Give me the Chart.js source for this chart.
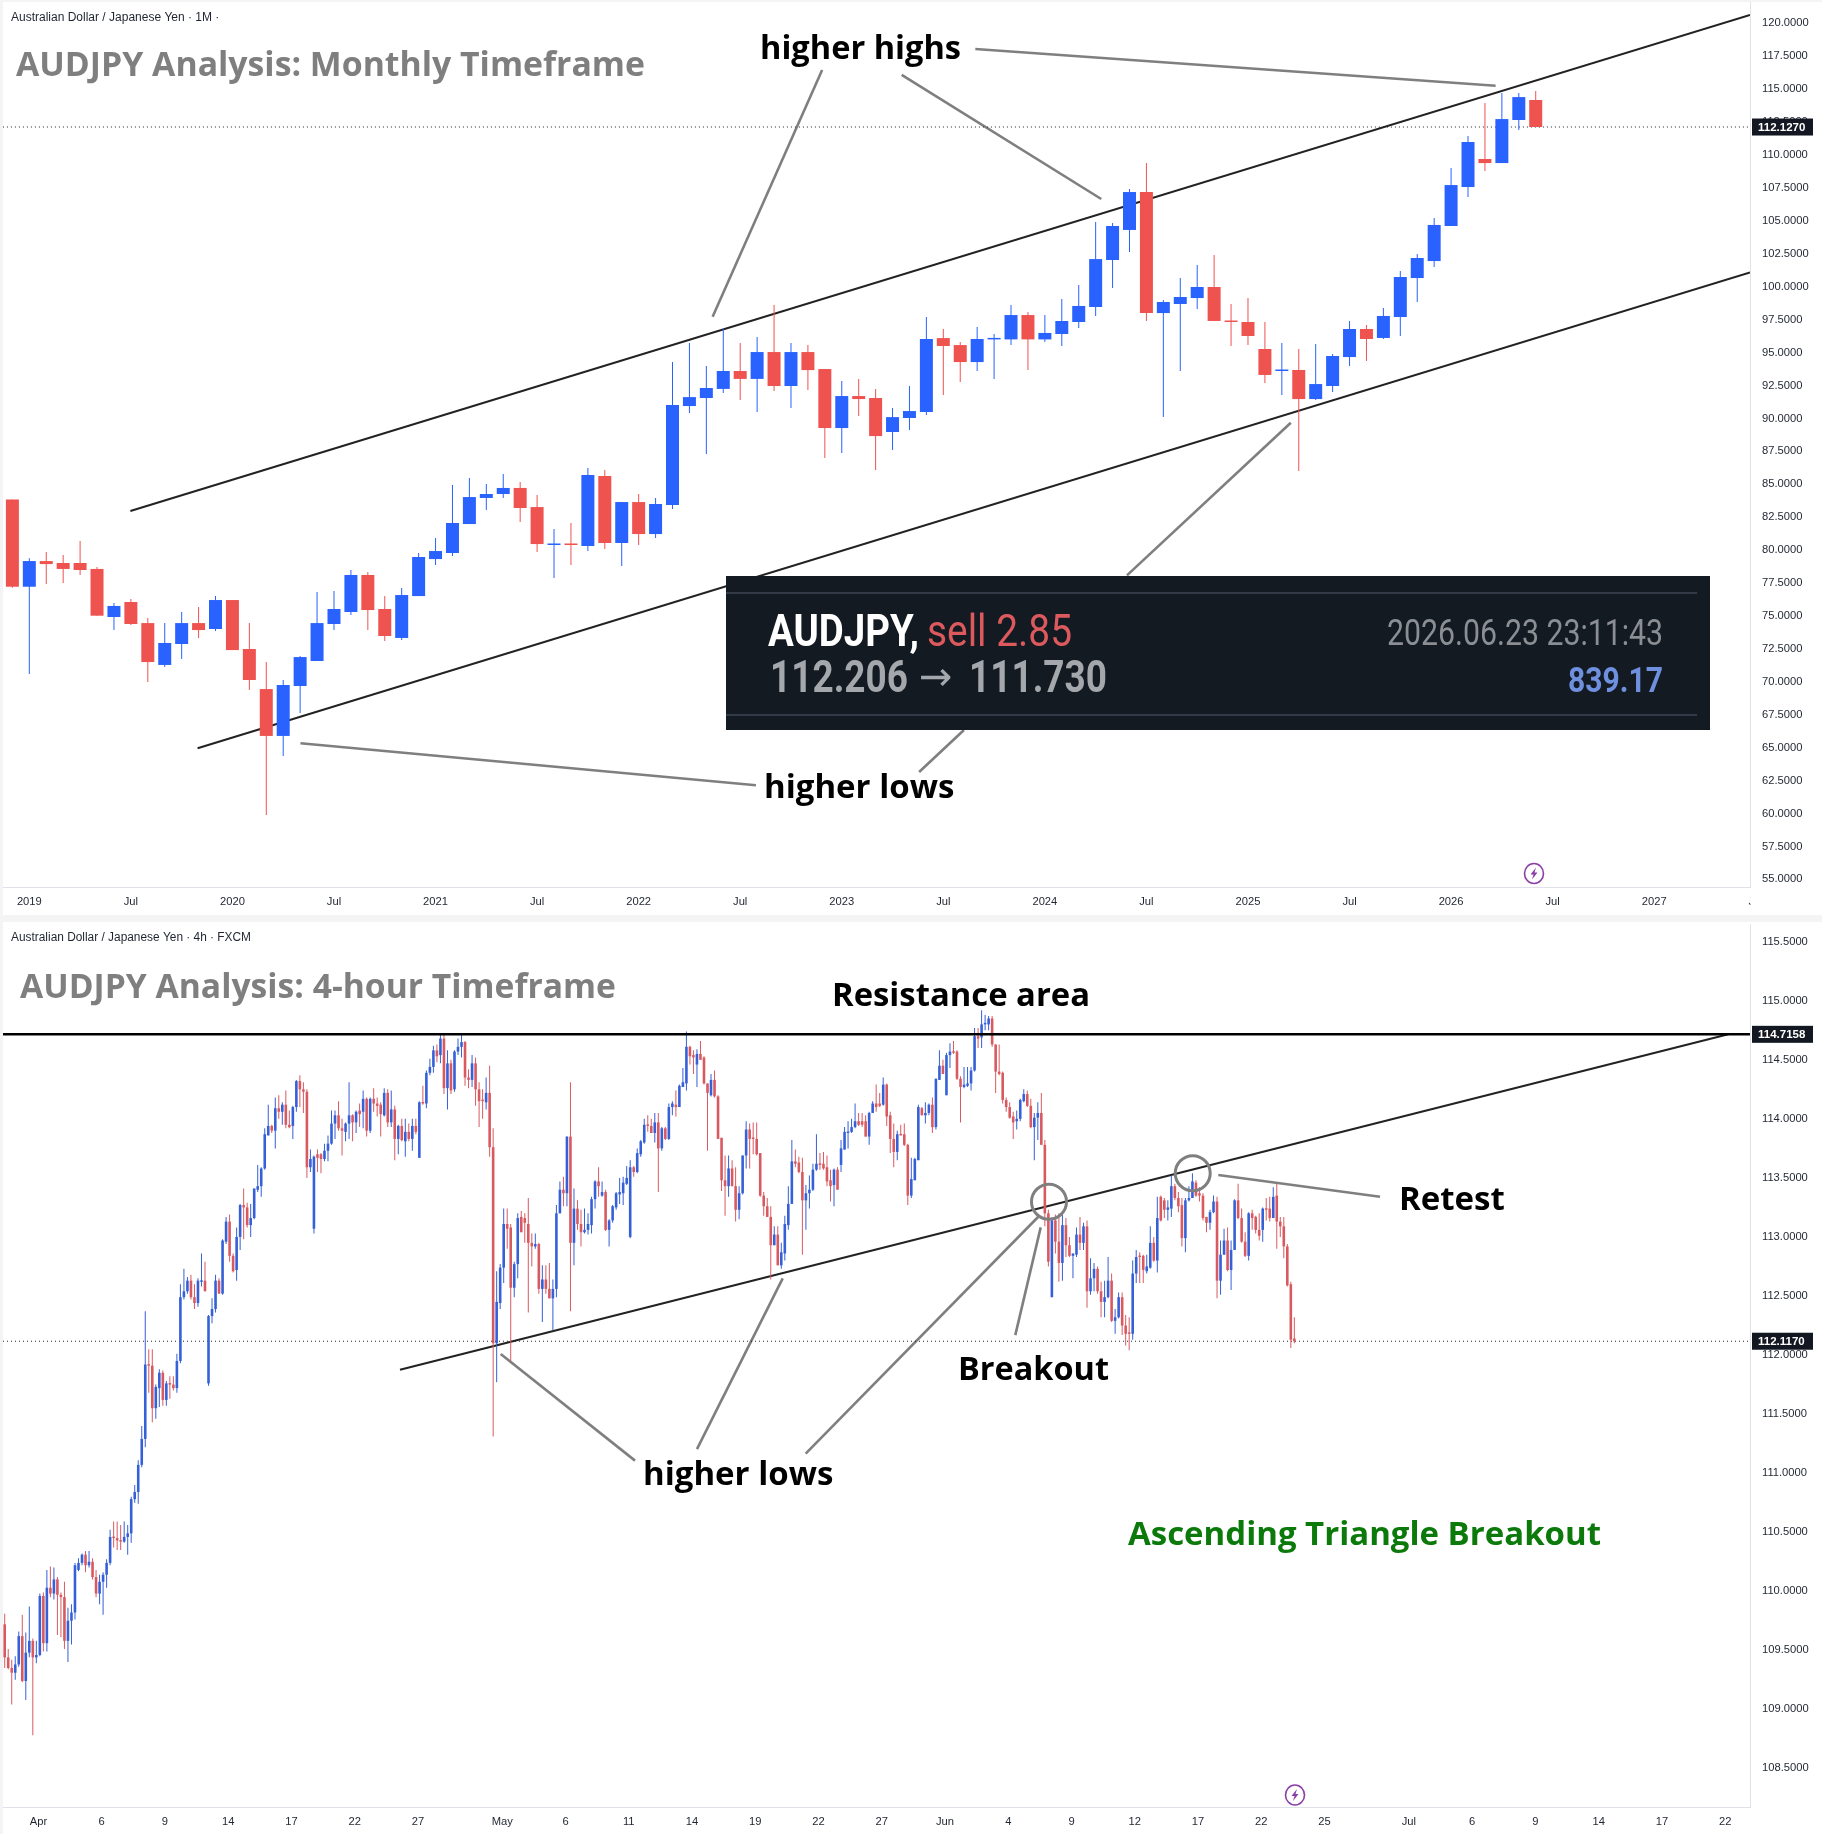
<!DOCTYPE html>
<html>
<head>
<meta charset="utf-8">
<title>AUDJPY Analysis</title>
<script src="https://cdn.jsdelivr.net/npm/chart.js@4/dist/chart.umd.min.js"></script>
<style>
  html, body { margin: 0; padding: 0; background: #f4f4f5; }
  body { position: relative; width: 1822px; height: 1834px; overflow: hidden; }
  canvas { position: absolute; left: 0; display: block; }
  #monthlyChart { top: 0; }
  #hourlyChart { top: 920px; }
</style>
</head>
<body>
<canvas id="monthlyChart" width="1822" height="920"></canvas>
<canvas id="hourlyChart" width="1822" height="914"></canvas>
<script>
// Monthly candles, Dec 2018 to Jun 2026
const monthlyOpen = [83.85,77.22,79.17,79.02,79.02,78.57,74.92,76.06,74.46,71.28,
  72.87,74.46,74.01,76.21,72.49,69.45,65.89,69.68,71.58,74.39,
  75.3,78.11,75.53,73.33,76.51,79.32,79.78,81.98,83.96,84.26,
  84.72,83.27,80.39,80.46,80.31,85.63,80.54,83.65,81.22,83.43,
  90.94,91.55,92.24,93.6,93,95.04,92.46,95.04,93.75,89.27,
  91.7,91.55,88.97,90.03,90.49,96.1,95.57,94.28,96,96,
  97.85,96,96.41,97.32,98.46,102.03,104.31,107.19,98,98.69,
  99.14,99.98,97.4,97.32,95.27,93.6,93.68,91.47,92.46,94.66,
  96.79,96.11,97.7,100.66,101.95,104.61,107.57,109.7,109.39,112.66,114.18];
const monthlyHigh = [83.85,79.38,79.86,79.63,80.69,78.72,75.98,76.29,74.84,74.46,
  75.3,75.68,76.51,76.21,74.46,71.5,70.14,71.96,76.82,76.89,
  78.49,78.34,76.51,77.12,79.78,80.92,84.94,85.47,85.02,85.78,
  85.17,84.18,81.6,82.06,86.23,86.08,83.65,84.26,83.95,94.28,
  95.73,93.98,96.79,95.73,96.18,98.61,95.73,95.57,93.75,92.84,
  93,92.24,90.79,92.46,97.7,96.79,95.8,96.94,96.41,98.61,
  98.08,97.85,99.07,100.13,104.91,104.84,107.42,109.39,98.99,100.66,
  101.65,102.41,98.69,99.14,97.32,95.73,95.27,95.65,94.89,97.4,
  97.09,98.38,101.19,102.48,105.22,109.01,111.44,113.95,114.71,114.71,114.86];
const monthlyLow = [77.15,70.59,77.43,77.5,78.11,75.02,73.93,74.31,69.98,71.12,
  71.73,73.33,73.86,72.41,69.38,59.89,64.37,67.63,71.58,73.93,
  75.07,73.93,73.1,73.17,76.51,78.87,79.55,81.98,83.04,83.96,
  82.13,79.86,77.88,78.87,79.93,80.08,78.79,80.39,80.92,83.12,
  90.41,87.3,91.93,91.4,90.49,92.08,90.79,92.16,86.99,87.37,
  90.18,86.08,87.6,89.12,90.26,91.78,92.77,93.6,93,95.57,
  93.67,95.8,95.5,96.87,97.78,99.9,102.63,97.4,90.1,93.6,
  98.31,97.4,95.5,95.57,92.69,91.78,86.01,91.4,92.01,93.98,
  94.36,96.03,96.26,98.84,101.5,104.61,106.81,108.79,109.39,111.9,112.127];
const monthlyClose = [77.22,79.17,78.94,78.57,78.49,75.02,75.76,74.39,71.5,72.95,
  74.46,73.93,76.21,72.41,70.14,65.89,69.76,71.88,74.46,75.53,
  78.11,75.45,73.48,76.59,79.48,79.93,82.06,84.03,84.26,84.72,
  83.2,80.46,80.46,80.39,85.7,80.54,83.65,81.22,83.5,91.02,
  91.62,92.31,93.6,93,95.04,92.46,95.04,93.67,89.27,91.7,
  91.47,88.66,90.1,90.56,96.03,95.5,94.28,96.03,96.05,97.85,
  96,96.49,97.4,98.54,102.1,104.61,107.19,98,98.84,99.22,
  99.98,97.4,97.32,96.26,93.3,93.68,91.47,92.61,94.74,96.79,
  96.03,97.78,100.74,102.18,104.69,107.72,110.99,109.39,112.73,114.4,112.127];

const monthlyPriceTicks = [120,117.5,115,112.5,110,107.5,105,102.5,100,97.5,95,92.5,90,87.5,85,82.5,80,77.5,75,72.5,70,67.5,65,62.5,60,57.5,55];
const monthlyTimeTicks = [1,7,13,19,25,31,37,43,49,55,61,67,73,79,85,91,97,103];
const monthlyTimeLabels = ['2019','Jul','2020','Jul','2021','Jul','2022','Jul','2023','Jul','2024','Jul','2025','Jul','2026','Jul','2027','Jul'];

const monthlyLastPrice = 112.127;
const channelUpper = [[6.97,82.97],[102.66,120.63]];
const channelLower = [[10.94,64.95],[102.66,101.09]];
const monthlyCallouts = [
  [[47.84,116.45],[41.37,97.72]],
  [[52.54,116.09],[64.33,106.66]],
  [[56.89,118.05],[87.63,115.26]],
  [[75.53,89.67],[65.85,78.08]],
  [[56.22,66.34],[53.57,63.15]],
  [[17.02,65.33],[43.93,62.14]]
];

// 4h candles, Apr to Jun 2026
const hourlyOpen = [109.72,109.44,109.35,109.31,109.38,109.62,109.24,109.48,109.58,109.44,
  109.46,109.96,109.56,110.03,109.98,110.10,109.97,109.95,109.58,109.75,
  109.82,110.18,110.24,110.31,110.22,110.25,110.12,109.98,110.08,110.14,
  110.24,110.46,110.45,110.43,110.42,110.46,110.49,110.78,110.84,111.07,
  111.29,111.92,111.91,111.55,111.72,111.85,111.62,111.76,111.75,111.72,
  111.95,112.49,112.54,112.63,112.49,112.44,112.62,112.63,111.76,112.33,
  112.39,112.63,112.52,112.96,113.13,112.84,112.72,113.00,113.27,113.25,
  113.10,113.16,113.40,113.43,113.58,113.86,113.94,113.90,114.09,114.06,
  114.12,113.95,113.94,114.10,114.32,114.25,114.23,113.59,113.07,113.70,
  113.70,113.66,113.73,113.79,113.96,114.03,113.92,113.89,113.96,114.03,
  113.97,114.07,114.06,114.17,113.90,114.17,114.13,114.12,114.03,114.22,
  113.97,114.08,113.83,113.94,113.81,113.89,113.83,113.94,113.67,114.14,
  114.13,114.39,114.44,114.58,114.54,114.68,114.26,114.47,114.25,114.57,
  114.61,114.65,114.35,114.33,114.47,114.25,114.16,114.14,114.22,113.76,
  112.10,112.44,112.74,113.11,113.08,112.57,112.77,113.17,113.16,113.11,
  112.95,112.92,112.94,112.56,112.64,112.56,112.48,112.56,113.20,113.40,
  113.37,113.85,112.95,113.24,113.11,113.04,113.06,113.10,113.32,113.47,
  113.35,113.38,113.06,113.14,113.25,113.36,113.37,113.45,113.00,113.59,
  113.55,113.70,113.80,113.95,113.94,113.88,113.97,113.75,113.92,113.83,
  114.10,114.12,114.10,114.27,114.30,114.61,114.54,114.46,114.55,114.52,
  114.30,114.20,114.33,114.19,113.84,113.48,113.43,113.58,113.43,113.23,
  113.37,113.69,113.91,113.84,113.83,113.71,113.35,113.26,113.17,112.93,
  113.02,112.76,112.86,113.10,113.28,113.64,113.63,113.55,113.31,113.37,
  113.40,113.57,113.62,113.62,113.59,113.48,113.44,113.57,113.61,113.74,
  113.88,113.89,113.93,113.98,113.98,113.98,113.85,114.05,114.13,114.13,
  114.12,114.29,114.03,113.83,113.72,113.87,113.87,113.78,113.35,113.48,
  113.65,114.09,114.03,114.05,114.12,113.93,114.33,114.45,114.20,114.54,
  114.57,114.57,114.34,114.27,114.28,114.30,114.41,114.70,114.69,114.80,
  114.80,114.85,114.63,114.40,114.39,114.16,114.10,114.02,113.98,114.00,
  114.15,114.21,114.11,113.93,114.01,114.05,113.78,113.20,112.49,113.14,
  112.96,112.78,113.10,112.93,112.84,112.85,113.02,112.95,113.09,112.54,
  112.65,112.73,112.54,112.45,112.49,112.63,112.29,112.32,112.49,112.25,
  112.19,112.18,112.69,112.84,112.84,112.71,112.74,112.95,112.80,113.34,
  113.31,113.23,113.24,113.43,113.33,113.27,112.99,113.31,113.33,113.46,
  113.37,113.35,113.17,113.12,113.21,113.30,112.63,112.85,112.97,112.72,
  112.89,113.31,113.16,112.96,112.84,113.20,113.17,113.06,113.06,113.24,
  113.24,113.16,113.35,113.13,113.09,112.92,112.60,112.14];
const hourlyHigh = [109.81,109.51,109.42,109.45,109.66,109.80,109.65,109.87,109.60,109.58,
  109.98,109.99,110.18,110.21,110.20,110.12,109.99,110.08,109.86,109.89,
  110.24,110.28,110.32,110.34,110.34,110.28,110.18,110.14,110.16,110.27,
  110.52,110.59,110.59,110.56,110.59,110.56,110.80,110.90,111.11,111.40,
  112.37,112.05,112.05,111.75,111.88,111.87,111.78,111.82,111.82,112.01,
  112.60,112.73,112.66,112.68,112.60,112.65,112.86,112.79,112.34,112.48,
  112.68,112.65,112.98,113.17,113.19,112.86,113.08,113.28,113.41,113.29,
  113.28,113.41,113.61,113.59,113.92,114.12,113.95,114.18,114.20,114.14,
  114.24,114.07,114.11,114.33,114.37,114.31,114.25,113.74,113.69,113.74,
  113.71,113.79,113.86,114.07,114.07,114.15,114.00,113.97,114.31,114.04,
  114.07,114.13,114.24,114.18,114.18,114.26,114.18,114.14,114.26,114.25,
  114.24,114.11,113.95,114.00,114.00,113.96,114.00,114.00,114.15,114.28,
  114.41,114.51,114.62,114.63,114.71,114.71,114.58,114.50,114.58,114.68,
  114.71,114.66,114.42,114.54,114.52,114.31,114.25,114.35,114.45,113.92,
  112.71,112.77,113.24,113.24,113.11,112.79,113.20,113.22,113.20,113.33,
  113.03,113.03,112.95,112.76,112.76,112.78,112.64,113.27,113.47,113.51,
  113.85,114.31,113.41,113.31,113.23,113.24,113.20,113.34,113.48,113.59,
  113.47,113.40,113.15,113.27,113.38,113.50,113.51,113.60,113.65,113.60,
  113.75,113.82,114.00,114.03,114.00,114.05,114.05,113.93,113.93,114.13,
  114.15,114.24,114.29,114.43,114.74,114.62,114.58,114.59,114.66,114.53,
  114.30,114.38,114.41,114.20,113.84,113.69,113.69,113.65,113.59,113.43,
  113.69,113.98,113.96,113.97,113.97,113.71,113.38,113.33,113.26,113.09,
  113.09,112.95,113.18,113.43,113.82,113.74,113.68,113.67,113.44,113.52,
  113.62,113.87,113.71,113.72,113.69,113.57,113.58,113.59,113.82,113.93,
  113.98,114.00,114.13,114.05,114.05,114.03,114.06,114.15,114.29,114.22,
  114.35,114.30,114.06,113.96,113.90,113.95,113.96,113.79,113.67,113.67,
  114.12,114.10,114.14,114.13,114.18,114.34,114.58,114.50,114.56,114.64,
  114.66,114.58,114.36,114.44,114.44,114.44,114.77,114.77,114.92,114.88,
  114.87,114.87,114.63,114.63,114.40,114.18,114.14,114.06,114.07,114.17,
  114.25,114.24,114.17,114.05,114.14,114.22,113.82,113.23,113.17,113.19,
  113.20,113.19,113.16,113.00,112.86,113.08,113.17,113.12,113.14,112.82,
  112.78,112.75,112.62,112.63,112.83,112.69,112.39,112.53,112.53,112.34,
  112.32,112.80,112.89,112.87,112.85,112.85,113.09,113.00,113.34,113.35,
  113.33,113.31,113.52,113.45,113.38,113.33,113.33,113.43,113.54,113.48,
  113.42,113.37,113.17,113.23,113.35,113.34,112.97,113.07,113.08,112.97,
  113.32,113.45,113.24,113.04,113.21,113.23,113.18,113.20,113.25,113.33,
  113.34,113.42,113.45,113.17,113.17,112.94,112.62,112.32];
const hourlyLow = [109.35,109.34,109.04,109.25,109.36,109.23,109.08,109.44,108.78,109.39,
  109.45,109.49,109.49,109.95,109.93,109.63,109.61,109.51,109.40,109.55,
  109.76,110.17,110.22,110.16,110.20,110.10,109.95,109.89,109.80,110.03,
  110.22,110.37,110.35,110.35,110.41,110.31,110.41,110.75,110.74,111.05,
  111.22,111.68,111.43,111.46,111.56,111.57,111.57,111.63,111.70,111.68,
  111.93,112.47,112.52,112.47,112.39,112.41,112.58,112.54,111.74,112.27,
  112.36,112.52,112.51,112.94,112.79,112.70,112.63,112.89,112.98,113.08,
  113.00,113.15,113.38,113.34,113.57,113.86,113.88,113.75,114.00,113.95,
  113.92,113.92,113.83,114.06,114.10,114.05,113.50,113.55,113.03,113.55,
  113.54,113.64,113.64,113.78,113.83,113.90,113.69,113.81,113.83,113.81,
  113.88,113.93,113.92,113.85,113.88,114.06,114.02,113.85,114.02,113.93,
  113.93,113.65,113.70,113.81,113.68,113.81,113.73,113.87,113.67,114.12,
  114.09,114.37,114.39,114.48,114.47,114.21,114.08,114.21,114.23,114.54,
  114.52,114.28,114.26,114.27,114.11,113.93,114.00,114.08,113.68,111.31,
  111.77,112.39,112.61,112.90,111.95,112.49,112.65,113.04,112.95,112.36,
  112.75,112.90,112.52,112.28,112.52,112.48,112.21,112.49,113.20,113.26,
  113.26,112.37,112.76,113.06,112.92,113.03,113.02,113.03,113.24,113.34,
  113.34,113.05,112.92,113.12,113.23,113.28,113.27,113.44,112.99,113.51,
  113.54,113.68,113.79,113.89,113.88,113.80,113.38,113.73,113.82,113.82,
  114.03,114.02,114.10,114.27,114.24,114.46,114.38,114.27,114.50,114.29,
  113.73,114.19,114.18,113.83,113.39,113.18,113.34,113.43,113.13,113.15,
  113.36,113.58,113.58,113.70,113.69,113.34,113.18,113.17,112.64,112.93,
  112.76,112.73,112.80,113.06,113.28,113.59,113.54,112.85,113.06,113.24,
  113.39,113.56,113.57,113.57,113.43,113.30,113.26,113.40,113.55,113.74,
  113.75,113.88,113.92,113.94,113.93,113.85,113.78,114.05,114.06,114.10,
  114.11,113.94,113.71,113.59,113.65,113.86,113.77,113.27,113.33,113.48,
  113.65,114.03,113.96,114.03,113.88,113.91,114.33,114.38,114.20,114.43,
  114.55,114.33,113.97,114.26,114.27,114.24,114.40,114.60,114.60,114.75,
  114.75,114.61,114.22,114.37,114.13,114.06,114.00,113.83,113.91,113.98,
  114.14,114.10,113.92,113.65,113.82,113.78,113.09,112.75,112.49,112.86,
  112.62,112.63,112.83,112.83,112.65,112.83,112.89,112.89,112.40,112.51,
  112.54,112.52,112.32,112.32,112.48,112.28,112.18,112.31,112.17,112.08,
  112.04,112.13,112.61,112.61,112.61,112.69,112.73,112.79,112.70,113.13,
  113.16,113.14,113.17,113.31,113.21,112.92,112.87,113.30,113.33,113.34,
  113.30,113.14,113.04,113.06,113.20,112.48,112.51,112.85,112.71,112.55,
  112.89,113.15,112.95,112.83,112.80,113.06,113.03,112.97,112.96,113.14,
  113.13,113.16,112.90,113.00,112.82,112.58,112.06,112.10];
const hourlyClose = [109.44,109.35,109.31,109.38,109.62,109.24,109.48,109.58,109.44,109.46,
  109.96,109.56,110.03,109.98,110.10,109.97,109.95,109.58,109.75,109.82,
  110.22,110.24,110.31,110.22,110.25,110.12,109.98,110.08,110.14,110.24,
  110.46,110.45,110.43,110.42,110.46,110.49,110.78,110.84,111.07,111.29,
  111.92,111.91,111.55,111.73,111.85,111.62,111.76,111.75,111.72,111.95,
  112.49,112.54,112.63,112.49,112.44,112.63,112.63,112.54,112.33,112.39,
  112.63,112.52,112.97,113.13,112.84,112.71,113.00,113.27,113.25,113.10,
  113.16,113.41,113.43,113.58,113.87,113.94,113.90,114.09,114.06,114.12,
  113.95,113.93,114.10,114.32,114.25,114.23,113.59,113.66,113.68,113.67,
  113.66,113.73,113.79,113.96,114.03,113.92,113.90,113.96,114.03,113.97,
  114.06,114.04,114.17,113.90,114.17,114.13,114.11,114.04,114.22,113.97,
  114.08,113.83,113.94,113.82,113.89,113.83,113.94,113.89,114.14,114.13,
  114.39,114.44,114.58,114.53,114.68,114.26,114.47,114.24,114.57,114.61,
  114.65,114.35,114.33,114.47,114.25,114.15,114.15,114.22,113.76,112.10,
  112.45,112.74,113.11,113.07,112.57,112.77,113.16,113.04,113.12,112.95,
  112.92,112.94,112.56,112.64,112.56,112.48,112.56,113.20,113.40,113.37,
  113.85,112.95,113.24,113.11,113.04,113.06,113.11,113.32,113.47,113.43,
  113.38,113.06,113.14,113.26,113.37,113.38,113.46,113.50,113.59,113.55,
  113.71,113.81,113.95,113.94,113.88,113.97,113.75,113.92,113.83,114.10,
  114.13,114.10,114.28,114.31,114.61,114.53,114.52,114.55,114.50,114.30,
  114.22,114.33,114.19,113.83,113.48,113.43,113.58,113.43,113.23,113.37,
  113.69,113.91,113.83,113.83,113.70,113.35,113.26,113.17,112.93,113.02,
  112.76,112.87,113.11,113.28,113.64,113.62,113.55,113.31,113.37,113.40,
  113.57,113.62,113.61,113.58,113.47,113.43,113.57,113.40,113.75,113.89,
  113.89,113.93,113.98,113.95,113.95,113.85,114.05,114.13,114.10,114.11,
  114.29,114.02,113.83,113.72,113.87,113.86,113.78,113.35,113.49,113.66,
  114.10,114.03,114.05,114.12,113.93,114.34,114.45,114.38,114.54,114.57,
  114.56,114.34,114.27,114.29,114.30,114.41,114.70,114.68,114.80,114.81,
  114.85,114.63,114.40,114.38,114.16,114.10,114.01,113.97,114.00,114.16,
  114.21,114.11,113.93,114.01,114.05,113.78,113.20,112.79,113.14,112.96,
  112.78,113.10,112.93,112.84,112.86,113.02,112.95,113.09,112.54,112.65,
  112.73,112.54,112.45,112.49,112.63,112.29,112.32,112.49,112.25,112.18,
  112.18,112.69,112.83,112.83,112.72,112.75,112.95,112.80,113.16,113.14,
  113.23,113.25,113.43,113.33,113.26,112.99,113.31,113.33,113.47,113.35,
  113.35,113.16,113.12,113.21,113.30,112.63,112.85,112.97,112.72,112.89,
  113.31,113.16,112.96,112.84,113.20,113.16,113.06,113.01,113.24,113.23,
  113.16,113.34,113.13,113.09,112.92,112.59,112.13,112.117];

const hourlyPriceTicks = [115.5,115,114.5,114,113.5,113,112.5,112,111.5,111,110.5,110,109.5,109,108.5];
const hourlyTimeTicks = [9.6,27.6,45.6,63.6,81.6,99.6,117.6,141.6,159.6,177.6,195.6,213.6,231.6,249.6,267.6,285.6,303.6,321.6,339.6,357.6,375.6,399.6,417.6,435.6,453.6,471.6,489.6];
const hourlyTimeLabels = ['Apr','6','9','14','17','22','27','May','6','11','14','19','22','27','Jun','4','9','12','17','22','25','Jul','6','9','14','17','22'];

const hourlyLastPrice = 112.117;
const resistanceLevel = 114.7158;
const ascendingLine = [[112.49,111.875],[490.5,114.7158]];
const hourlyCallouts = [
  [[141.15,112.008],[179.37,111.106]],
  [[221.4,112.649],[197.0,111.204]],
  [[227.94,111.165],[294.14,113.171]],
  [[294.82,113.081],[287.59,112.169]],
  [[345.36,113.524],[391.38,113.34]]
];
const retestCircles = [[297.18,113.298],[338.08,113.539]];

const xy = pts => pts.map(p => ({ x: p[0], y: p[1] }));

function lineSet(pts, color, width, dash, order) {
  return {
    type: 'line',
    data: xy(pts),
    borderColor: color,
    borderWidth: width,
    borderDash: dash || [],
    borderCapStyle: 'butt',
    pointRadius: 0,
    tension: 0,
    order: order === undefined ? 5 : order
  };
}

// wicks and bodies are both floating bars, wicks just thinner
function candleSets(open, high, low, close, up, down, bodyWidth, wickWidth) {
  const colors = open.map((o, i) => close[i] >= o ? up : down);
  return [
    {
      type: 'bar',
      data: low.map((l, i) => ({ x: i, y: [l, high[i]] })),
      backgroundColor: colors,
      barThickness: wickWidth,
      borderWidth: 0,
      inflateAmount: 0,
      order: 2
    },
    {
      type: 'bar',
      data: open.map((o, i) => ({ x: i, y: [Math.min(o, close[i]), Math.max(o, close[i])] })),
      backgroundColor: colors,
      barThickness: bodyWidth,
      borderWidth: 0,
      inflateAmount: 0,
      minBarLength: 1.5,
      order: 1
    }
  ];
}

const axisFont = { family: '"Liberation Sans"', size: 11.2 };

// the scales take no extra room for overhanging labels, the plot area stays fixed
function fixScaleBox(s) {
  s.paddingLeft = 0;
  s.paddingRight = 0;
  s.paddingTop = 0;
  s.paddingBottom = 0;
}

function chartOptions(o) {
  return {
    responsive: false,
    animation: false,
    events: [],
    grouped: false,
    layout: { autoPadding: false, padding: { left: 3, top: o.top, right: 0, bottom: 0 } },
    plugins: { legend: { display: false }, tooltip: { enabled: false } },
    scales: {
      x: {
        type: 'linear',
        offset: false,
        min: o.xMin,
        max: o.xMax,
        grid: { display: false },
        border: { display: true, color: '#dfe2e8', width: 1 },
        afterBuildTicks: s => { s.ticks = o.xTicks.map(v => ({ value: v })); },
        afterFit: s => { s.height = o.xHeight; fixScaleBox(s); },
        ticks: {
          autoSkip: false,
          maxRotation: 0,
          padding: 0,
          color: '#1f2430',
          font: axisFont,
          callback: (v, i) => o.xLabels[i]
        }
      },
      y: {
        type: 'linear',
        position: 'right',
        min: o.yMin,
        max: o.yMax,
        grid: { display: false },
        border: { display: true, color: '#dfe2e8', width: 1 },
        afterBuildTicks: s => { s.ticks = o.yTicks.map(v => ({ value: v })); },
        afterFit: s => { s.width = 72; fixScaleBox(s); },
        ticks: {
          autoSkip: false,
          padding: 4,
          color: '#1f2430',
          font: axisFont,
          callback: v => v.toFixed(4)
        }
      }
    }
  };
}

// white panel with a faint edge
function panelBackground(inset) {
  return {
    id: 'panelBackground',
    beforeDraw(chart) {
      const c = chart.ctx, w = chart.width, h = chart.height;
      c.save();
      c.fillStyle = '#f4f4f5';
      c.fillRect(0, 0, w, h);
      c.fillStyle = '#ffffff';
      c.fillRect(3, inset.top, w - 3, inset.bottom - inset.top);
      c.restore();
    }
  };
}

function label(c, text, x, y, width, font, color) {
  c.font = font;
  c.fillStyle = color;
  c.textAlign = 'left';
  c.textBaseline = 'alphabetic';
  c.fillText(text, x, y, width);
}

function priceTag(chart, value, text) {
  const c = chart.ctx;
  const y = chart.scales.y.getPixelForValue(value);
  c.fillStyle = '#131722';
  c.fillRect(1752, y - 8.5, 61, 17);
  c.font = 'bold 11.5px "Liberation Sans"';
  c.fillStyle = '#ffffff';
  c.textAlign = 'left';
  c.textBaseline = 'middle';
  c.fillText(text, 1758, y + 0.5, 49);
}

function boltIcon(c, cx, cy) {
  c.strokeStyle = '#8a3ea6';
  c.lineWidth = 1.6;
  c.beginPath();
  c.ellipse(cx, cy, 9.5, 10, 0, 0, Math.PI * 2);
  c.stroke();
  c.fillStyle = '#8a3ea6';
  c.beginPath();
  c.moveTo(cx + 2, cy - 6);
  c.lineTo(cx - 3.5, cy + 1);
  c.lineTo(cx - 0.5, cy + 1);
  c.lineTo(cx - 2, cy + 6);
  c.lineTo(cx + 3.5, cy - 1);
  c.lineTo(cx + 0.5, cy - 1);
  c.closePath();
  c.fill();
}

const boldFont = size => `bold ${size}px "Open Sans"`;

const monthlyOverlay = {
  id: 'monthlyOverlay',
  afterDraw(chart) {
    const c = chart.ctx;
    c.save();
    // tidy the clipped last date label under the price scale
    c.fillStyle = '#ffffff';
    c.fillRect(1750.5, 888, 72, 27);

    label(c, 'Australian Dollar / Japanese Yen · 1M ·', 11, 21, 209, '12px "Liberation Sans"', '#1f2430');
    label(c, 'AUDJPY Analysis: Monthly Timeframe', 16, 76, 629, boldFont(34), '#7f7f7f');
    label(c, 'higher highs', 760, 59, 201, boldFont(33), '#000000');
    label(c, 'higher lows', 764, 798, 192, boldFont(33), '#000000');

    // trade summary banner
    c.fillStyle = '#131a22';
    c.fillRect(726, 576, 984, 154);
    c.fillStyle = '#323a47';
    c.fillRect(726, 592, 971, 2);
    c.fillRect(726, 714, 971, 2);
    label(c, 'AUDJPY,', 768, 646, 151, 'bold 44px Roboto', '#ffffff');
    label(c, 'sell 2.85', 927, 646, 145, '44px Roboto', '#dc5a5e');
    label(c, '112.206', 770, 692, 138, 'bold 44px Roboto', '#a4a8ac');
    label(c, '→', 919, 690, 39, '500 40px "DejaVu Sans"', '#a4a8ac');
    label(c, '111.730', 969, 692, 138, 'bold 44px Roboto', '#a4a8ac');
    label(c, '2026.06.23 23:11:43', 1387, 645, 276, '37px Roboto', '#8b8f93');
    label(c, '839.17', 1568, 692, 95, 'bold 35px Roboto', '#6f8fdf');

    boltIcon(c, 1534, 873.5);
    priceTag(chart, monthlyLastPrice, '112.1270');
    c.restore();
  }
};

const hourlyOverlay = {
  id: 'hourlyOverlay',
  afterDraw(chart) {
    const c = chart.ctx;
    const off = 920;
    c.save();
    label(c, 'Australian Dollar / Japanese Yen · 4h · FXCM', 11, 941 - off, 240, '12px "Liberation Sans"', '#1f2430');
    label(c, 'AUDJPY Analysis: 4-hour Timeframe', 20, 998 - off, 596, boldFont(34), '#7f7f7f');
    label(c, 'Resistance area', 832, 1006 - off, 258, boldFont(33), '#000000');
    label(c, 'Retest', 1399, 1210 - off, 106, boldFont(33), '#000000');
    label(c, 'Breakout', 958, 1380 - off, 151, boldFont(33), '#000000');
    label(c, 'higher lows', 643, 1485 - off, 192, boldFont(33), '#000000');
    label(c, 'Ascending Triangle Breakout', 1128, 1545 - off, 473, boldFont(33), '#0b7a0b');

    boltIcon(c, 1295, 1795 - off);
    priceTag(chart, resistanceLevel, '114.7158');
    priceTag(chart, hourlyLastPrice, '112.1170');
    c.restore();
  }
};

new Chart(document.getElementById('monthlyChart'), {
  data: {
    datasets: [
      ...candleSets(monthlyOpen, monthlyHigh, monthlyLow, monthlyClose, '#2962ff', '#ef5350', 13, 1),
      lineSet(channelUpper, '#222222', 2),
      lineSet(channelLower, '#222222', 2),
      lineSet([[-0.56, monthlyLastPrice], [102.66, monthlyLastPrice]], '#1f2430', 1, [1, 3]),
      ...monthlyCallouts.map(l => lineSet(l, '#7f7f7f', 2.6))
    ]
  },
  options: chartOptions({
    top: 2, xHeight: 33,
    xMin: -0.555, xMax: 102.66, yMin: 54.42, yMax: 121.62,
    xTicks: monthlyTimeTicks, xLabels: monthlyTimeLabels, yTicks: monthlyPriceTicks
  }),
  plugins: [panelBackground({ top: 2, bottom: 915 }), monthlyOverlay]
});

new Chart(document.getElementById('hourlyChart'), {
  data: {
    datasets: [
      ...candleSets(hourlyOpen, hourlyHigh, hourlyLow, hourlyClose, '#3560d8', '#d85a60', 2.6, 1),
      lineSet(ascendingLine, '#222222', 2),
      lineSet([[-0.48, resistanceLevel], [496.67, resistanceLevel]], '#000000', 2.5, [], 0),
      lineSet([[-0.48, hourlyLastPrice], [496.67, hourlyLastPrice]], '#1f2430', 1, [1, 3]),
      ...hourlyCallouts.map(l => lineSet(l, '#7f7f7f', 2.6)),
      {
        type: 'scatter',
        data: xy(retestCircles),
        pointStyle: 'circle',
        pointRadius: 17.5,
        pointBorderWidth: 3,
        pointBorderColor: '#7f7f7f',
        pointBackgroundColor: 'rgba(0,0,0,0)',
        order: 0
      }
    ]
  },
  options: chartOptions({
    top: 4, xHeight: 27,
    xMin: -0.484, xMax: 496.67, yMin: 108.173, yMax: 115.65,
    xTicks: hourlyTimeTicks, xLabels: hourlyTimeLabels, yTicks: hourlyPriceTicks
  }),
  plugins: [panelBackground({ top: 2, bottom: 914 }), hourlyOverlay]
});
</script>
</body>
</html>
